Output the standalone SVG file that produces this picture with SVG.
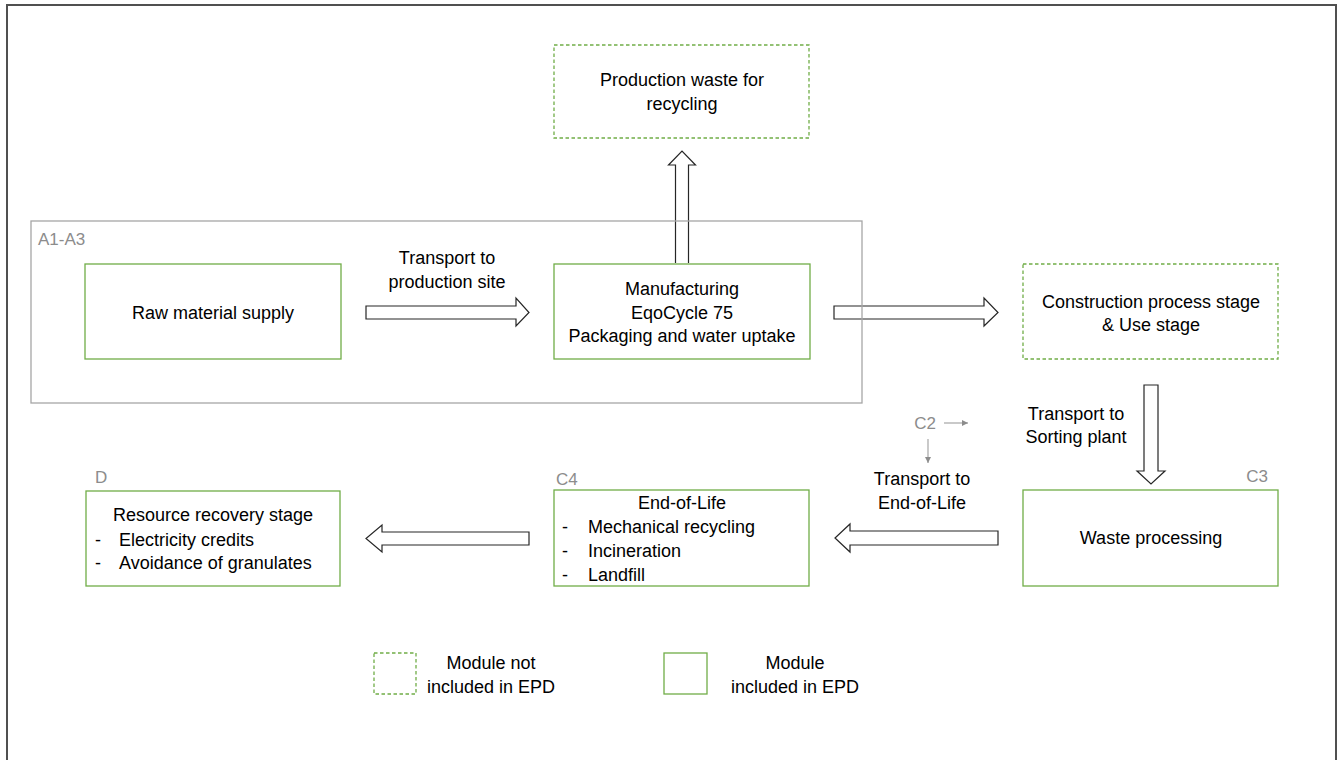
<svg xmlns="http://www.w3.org/2000/svg" width="1343" height="760" viewBox="0 0 1343 760">
<defs>
<style>
text{font-family:"Liberation Sans",Arial,sans-serif;font-size:18px;fill:#000}
.c{text-anchor:middle}
.lbl{font-size:17px;fill:#8c8c8c}
.box{fill:#fff;stroke:#70AD47;stroke-width:1.3}
.dash{fill:#fff;stroke:#70AD47;stroke-width:1.3;stroke-dasharray:3.5 2.5}
.blk{fill:#fff;stroke:#262626;stroke-width:1.2;stroke-linejoin:miter}
.thin{stroke:#a6a6a6;stroke-width:1.2;fill:none}
</style>
<marker id="ah" markerWidth="8" markerHeight="8" refX="6" refY="3" orient="auto" markerUnits="userSpaceOnUse">
<path d="M0,0 L6,3 L0,6 Z" fill="#8c8c8c"/>
</marker>
</defs>
<rect width="1343" height="760" fill="#fff"/>
<path d="M7,770 V5 H1336 V770" fill="none" stroke="#505050" stroke-width="2"/>

<g id="connectors">
<path class="blk" d="M675.5,263 V165 H668.5 L682,151 L695.5,165 H688.5 V263"/>
<path class="blk" d="M366,306 H516 V298 L529,312.5 L516,326 V319 H366 Z"/>
<path class="blk" d="M834,306 H984 V298 L998,312.5 L984,326 V319 H834 Z"/>
<path class="blk" d="M1144,385 H1158 V471 H1165 L1151,484 L1137,471 H1144 Z"/>
<path class="blk" d="M998,531 H850 V524 L835,538 L850,552 V545 H998 Z"/>
<path class="blk" d="M529,532 H382 V525 L366,538.5 L382,552 V545 H529 Z"/>
<line class="thin" x1="944" y1="423" x2="968" y2="423" marker-end="url(#ah)"/>
<line class="thin" x1="928" y1="439" x2="928" y2="463" marker-end="url(#ah)"/>
<text x="447" y="264" class="c">Transport to</text>
<text x="447" y="288" class="c">production site</text>
<text x="1076" y="420" class="c">Transport to</text>
<text x="1076" y="443" class="c">Sorting plant</text>
<text x="922" y="485" class="c">Transport to</text>
<text x="922" y="509" class="c">End-of-Life</text>
<text x="925" y="429" class="lbl c">C2</text>
</g>

<g id="group-a1a3">
<rect x="31" y="221" width="831" height="182" fill="none" stroke="#a6a6a6" stroke-width="1.3"/>
<text x="38" y="245" class="lbl">A1-A3</text>
</g>

<g id="node-production-waste">
<rect class="dash" x="554" y="45" width="255" height="93"/>
<text x="682" y="86" class="c">Production waste for</text>
<text x="682" y="110" class="c">recycling</text>
</g>

<g id="node-raw-material">
<rect class="box" x="85" y="264" width="256" height="95"/>
<text x="213" y="319" class="c">Raw material supply</text>
</g>

<g id="node-manufacturing">
<rect class="box" x="554" y="264" width="256" height="95"/>
<text x="682" y="295" class="c">Manufacturing</text>
<text x="682" y="319" class="c">EqoCycle 75</text>
<text x="682" y="342" class="c">Packaging and water uptake</text>
</g>

<g id="node-construction">
<rect class="dash" x="1023" y="264" width="255" height="95"/>
<text x="1151" y="308" class="c">Construction process stage</text>
<text x="1151" y="331" class="c">&amp; Use stage</text>
</g>

<g id="node-waste-processing">
<text x="1257" y="482" class="lbl c">C3</text>
<rect class="box" x="1023" y="490" width="255" height="96"/>
<text x="1151" y="544" class="c">Waste processing</text>
</g>

<g id="node-end-of-life">
<text x="556" y="485" class="lbl">C4</text>
<rect class="box" x="554" y="490" width="255" height="96"/>
<text x="682" y="509" class="c">End-of-Life</text>
<text x="562" y="533">-</text><text x="588" y="533">Mechanical recycling</text>
<text x="562" y="557">-</text><text x="588" y="557">Incineration</text>
<text x="562" y="581">-</text><text x="588" y="581">Landfill</text>
</g>

<g id="node-resource-recovery">
<text x="95" y="483" class="lbl">D</text>
<rect class="box" x="86" y="491" width="254" height="95"/>
<text x="213" y="521" class="c">Resource recovery stage</text>
<text x="95" y="546">-</text><text x="119" y="546">Electricity credits</text>
<text x="95" y="569">-</text><text x="119" y="569">Avoidance of granulates</text>
</g>

<g id="legend">
<rect class="dash" x="374" y="653" width="42" height="41"/>
<text x="491" y="669" class="c">Module not</text>
<text x="491" y="693" class="c">included in EPD</text>
<rect class="box" x="664" y="653" width="43" height="41"/>
<text x="795" y="669" class="c">Module</text>
<text x="795" y="693" class="c">included in EPD</text>
</g>
</svg>
